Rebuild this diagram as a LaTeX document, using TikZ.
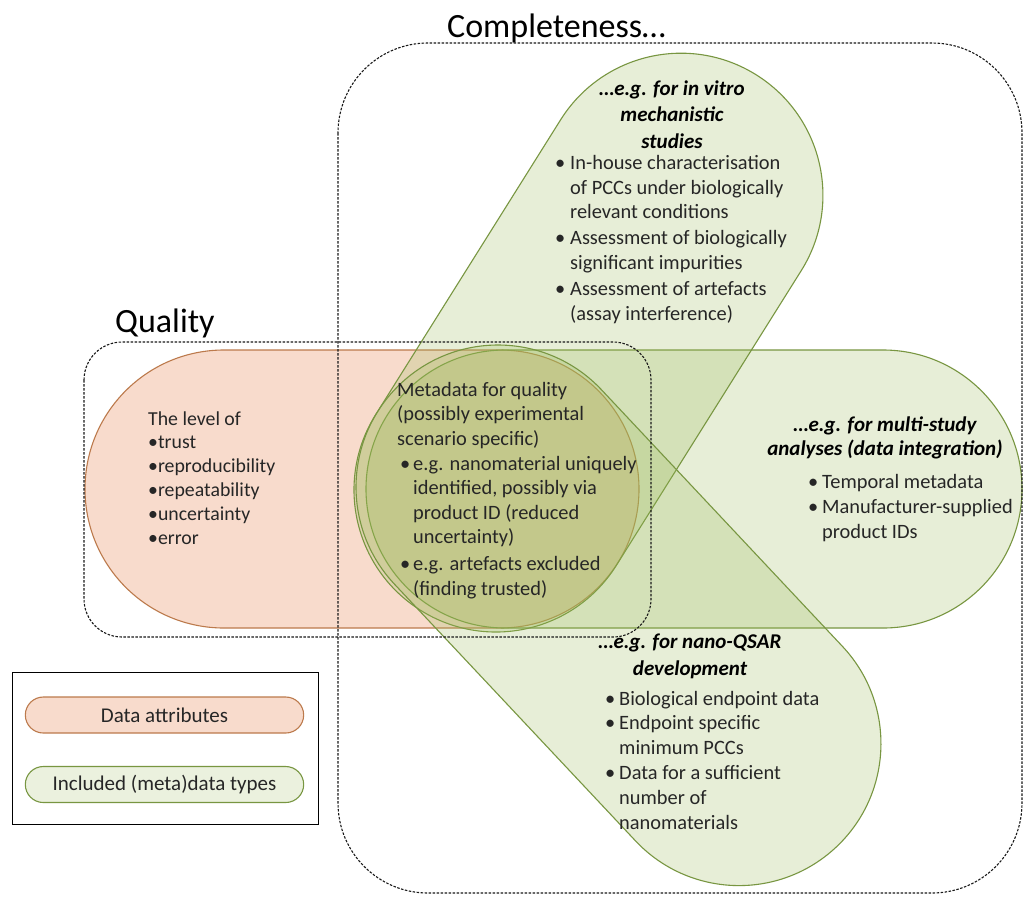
\documentclass[tikz,border=0pt]{standalone}
\usepackage{fontspec}
\setmainfont{Carlito}
\usetikzlibrary{shapes.misc}
\definecolor{grfill}{RGB}{155,187,89}
\definecolor{grline}{RGB}{120,150,65}
\definecolor{orfill}{RGB}{248,219,204}
\definecolor{orline}{RGB}{188,122,76}
\definecolor{txt}{RGB}{38,38,38}
\definecolor{dashc}{RGB}{25,25,25}
\newcommand{\bulw}[1]{\makebox[#1][l]{\textbullet}}
\newcommand{\indw}[1]{\hspace*{#1}}
\begin{document}
\begin{tikzpicture}[x=1pt,y=1pt,
  greenshape/.style={fill=grfill, fill opacity=0.24, draw=grline, draw opacity=1, line width=1.1pt},
  orangeshape/.style={fill=orfill, draw=orline, line width=1.1pt},
  dashbox/.style={draw=dashc, line width=1.1pt, dash pattern=on 2.5pt off 1.5pt},
  body/.style={font=\fontsize{20.4}{24.6}\selectfont, text=txt, inner sep=0pt, align=left},
  head/.style={font=\fontsize{21}{26.5}\selectfont\bfseries\itshape, text=black, inner sep=0pt, align=center},
  titletext/.style={font=\fontsize{34}{40}\selectfont, text=black, inner sep=0pt},
  legendpill/.style={rounded rectangle, minimum width=285pt, minimum height=36pt, line width=1.1pt, font=\fontsize{21}{25}\selectfont, text=txt}]
\useasboundingbox (0,0) rectangle (1024,-897);
\fill[white] (0,0) rectangle (1024,-897);

% Data attribute (orange) stadium
\path[orangeshape] (224,-350) -- (500,-350) arc[start angle=90,end angle=-90,radius=139pt]
  -- (224,-628) arc[start angle=270,end angle=90,radius=139pt] -- cycle;

% multi-study (horizontal green) stadium
\path[greenshape] (505,-350) -- (883,-350) arc[start angle=90,end angle=-90,radius=139pt]
  -- (505,-628) arc[start angle=270,end angle=90,radius=139pt] -- cycle;

% in vitro (diagonal up) stadium
\begin{scope}[shift={(496,-490)}, rotate=57.9]
\path[greenshape] (0,-142) -- (348,-142) arc[start angle=-90,end angle=90,radius=142pt]
  -- (0,142) arc[start angle=90,end angle=270,radius=142pt] -- cycle;
\end{scope}

% nano-QSAR (diagonal down) stadium
\begin{scope}[shift={(498,-487)}, rotate=-46.8]
\path[greenshape] (0,-142) -- (352,-142) arc[start angle=-90,end angle=90,radius=142pt]
  -- (0,142) arc[start angle=90,end angle=270,radius=142pt] -- cycle;
\end{scope}

% dashed group boxes
\draw[dashbox, rounded corners=90pt] (338,-43) rectangle (1022,-893);
\draw[dashbox, rounded corners=38pt] (84,-342) rectangle (651,-637);

% titles
\node[titletext, anchor=base west] (tcomp) at (447,-37) {Completeness…};
\node[titletext, anchor=base west] (tqual) at (115,-332) {Quality};

% quality text (anchored at the baseline of its last line)
\node[body, anchor=base west, font=\fontsize{19.8}{23.8}\selectfont] (qtext) at (148,-544)
 {The level of\\\textbullet{}trust\\\textbullet{}reproducibility\\\textbullet{}repeatability\\\textbullet{}uncertainty\\\textbullet{}error};

% central metadata text
\node[body, anchor=base west] (meta) at (397,-595)
 {Metadata for quality\\(possibly experimental\\scenario specific)\\
  \indw{3pt}\bulw{13pt}e.g. nanomaterial uniquely\\\indw{16pt}identified, possibly via\\
  \indw{16pt}product ID (reduced\\\indw{16pt}uncertainty)\\[2pt]
  \indw{3pt}\bulw{13pt}e.g. artefacts excluded\\\indw{16pt}(finding trusted)};

% in vitro
\node[head, anchor=base] (vitroh) at (672,-148) {…e.g. for in vitro\\mechanistic\\studies};
\node[body, anchor=base west] (vitrol) at (555,-320)
 {\bulw{15pt}In-house characterisation\\\indw{15pt}of PCCs under biologically\\\indw{15pt}relevant conditions\\[1.5pt]
  \bulw{15pt}Assessment of biologically\\\indw{15pt}significant impurities\\[1.5pt]
  \bulw{15pt}Assessment of artefacts\\\indw{15pt}(assay interference)};

% multi-study
\node[head, anchor=base, font=\fontsize{21}{23.3}\selectfont\bfseries\itshape] (multih) at (885,-455)
 {…e.g. for multi-study\\analyses (data integration)};
\node[body, anchor=base west] (multil) at (808,-538)
 {\bulw{14pt}Temporal metadata\\\bulw{14pt}Manufacturer-supplied\\\indw{14pt}product IDs};

% nano-QSAR
\node[head, anchor=base, font=\fontsize{21}{27}\selectfont\bfseries\itshape] (qsarh) at (690,-675)
 {…e.g. for nano-QSAR\\development};
\node[body, anchor=base west, font=\fontsize{20.4}{24.8}\selectfont] (qsarl) at (605,-829)
 {\bulw{14pt}Biological endpoint data\\\bulw{14pt}Endpoint specific\\\indw{14pt}minimum PCCs\\
  \bulw{14pt}Data for a sufficient\\\indw{14pt}number of\\\indw{14pt}nanomaterials};

% legend
\draw[line width=1pt] (12,-672) rectangle (318,-824);
\node[legendpill, draw=orline, fill=orfill] (legor) at (164.5,-715) {Data attributes};
\node[legendpill, draw=grline, fill=grfill!20] (leggr) at (164.5,-784.5) {Included (meta)data types};
\end{tikzpicture}
\end{document}
